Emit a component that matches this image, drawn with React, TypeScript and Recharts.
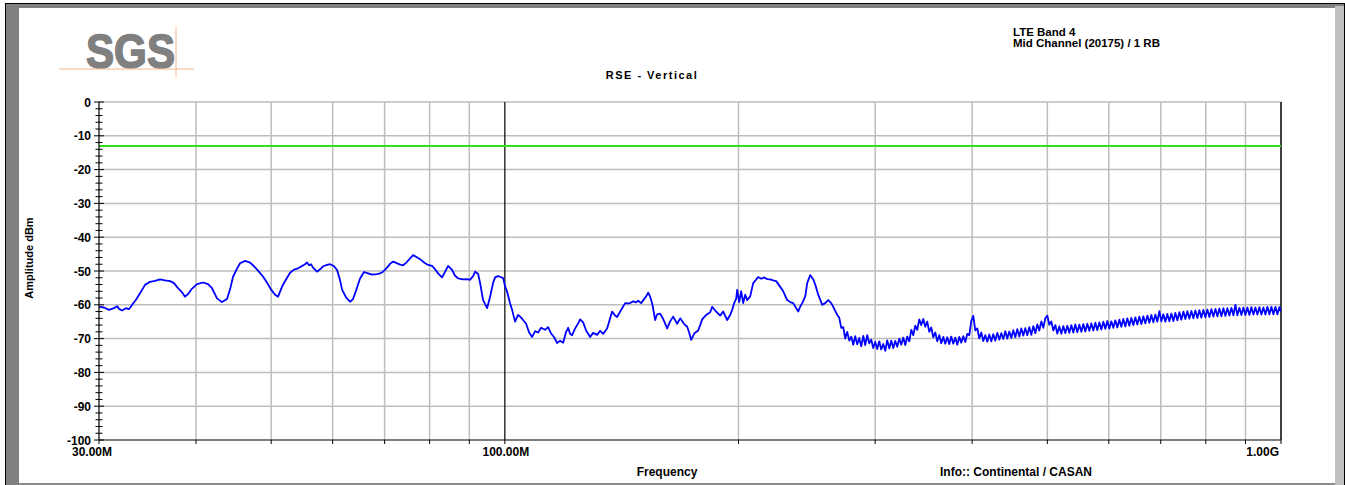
import React from 'react';
import { LineChart, Line, XAxis, YAxis, ReferenceLine } from 'recharts';

const W = 1345;
const H = 485;
const FONT = '"Liberation Sans", Arial, Helvetica, sans-serif';

// Sweep 30 MHz - 100 MHz: [frequency MHz, level dBm]
const traceLow: [number, number][] = [
  [30.0, -60.6], [30.45, -60.8], [30.9, -61.5], [31.37, -61.0], [31.65, -60.4], [31.84, -61.2],
  [32.12, -61.7], [32.5, -61.0], [32.79, -61.3], [33.19, -59.6], [33.48, -58.5], [33.88, -56.6],
  [34.39, -54.1], [34.9, -53.2], [35.42, -52.9], [35.95, -52.5], [36.49, -52.8], [37.04, -53.0],
  [37.48, -53.6], [37.93, -55.1], [38.38, -56.3], [38.72, -57.6], [39.07, -56.8], [39.54, -55.2],
  [40.13, -53.9], [40.85, -53.4], [41.46, -53.9], [41.95, -55.1], [42.58, -58.1], [43.21, -59.2],
  [43.86, -58.3], [44.25, -55.5], [44.65, -51.7], [45.18, -49.3], [45.59, -47.7], [46.27, -47.0],
  [46.96, -47.5], [47.52, -48.6], [48.09, -49.9], [48.82, -51.7], [49.39, -53.5], [49.98, -55.5],
  [50.58, -57.0], [51.03, -57.6], [51.64, -54.6], [52.25, -52.5], [52.88, -50.5], [53.51, -49.6],
  [54.15, -49.2], [54.79, -48.5], [55.28, -48.0], [55.61, -47.5], [55.94, -48.3], [56.27, -48.0],
  [56.61, -49.0], [57.29, -50.2], [57.8, -49.5], [58.32, -48.6], [59.01, -48.2], [59.54, -48.0],
  [60.25, -48.6], [60.79, -49.7], [61.33, -52.7], [61.7, -55.5], [62.43, -57.8], [63.18, -59.1],
  [63.74, -58.3], [64.31, -55.8], [65.08, -52.2], [65.86, -50.3], [66.64, -50.7], [67.44, -51.1],
  [68.45, -50.9], [69.06, -50.7], [69.68, -50.2], [70.51, -49.0], [71.14, -47.9], [71.78, -47.2],
  [72.42, -47.6], [73.29, -48.1], [73.94, -48.3], [74.6, -47.6], [75.27, -46.6], [76.17, -45.3],
  [76.85, -45.8], [77.77, -46.5], [78.7, -47.5], [79.63, -48.2], [80.59, -48.5], [81.31, -49.5],
  [82.04, -50.7], [83.02, -51.9], [83.77, -50.2], [84.51, -48.5], [85.52, -49.7], [86.28, -51.4],
  [87.05, -52.2], [88.35, -52.5], [89.41, -52.4], [90.21, -52.6], [91.02, -51.5], [91.56, -50.2],
  [92.37, -50.8], [92.93, -53.6], [93.76, -58.6], [94.87, -61.0], [95.72, -57.6], [96.58, -53.5],
  [97.15, -51.9], [98.02, -51.5], [98.6, -51.7], [99.49, -52.1],
];

// Sweep 100 MHz - 270 MHz
const traceMid: [number, number][] = [
  [100.08, -54.5], [100.68, -56.1], [101.58, -59.6], [102.18, -61.5], [103.09, -65.0], [104.01, -63.0],
  [104.94, -63.8], [105.56, -64.5], [106.52, -65.6], [107.47, -68.2], [108.43, -69.5], [109.4, -67.8],
  [110.37, -68.2], [111.36, -66.8], [112.69, -67.4], [113.7, -66.6], [114.72, -68.5], [115.74, -69.6],
  [116.78, -71.3], [117.82, -70.6], [118.88, -71.2], [119.94, -68.0], [120.65, -66.8], [121.37, -68.6],
  [122.09, -69.0], [123.18, -67.0], [124.29, -65.5], [125.03, -64.3], [126.15, -65.2], [127.27, -67.6],
  [128.79, -69.5], [129.94, -68.3], [131.5, -68.9], [132.67, -67.7], [133.86, -68.6], [135.45, -67.0],
  [136.67, -64.0], [137.48, -62.0], [138.71, -63.2], [139.54, -63.6], [140.79, -62.0], [141.63, -61.0],
  [142.89, -59.5], [144.6, -59.6], [146.33, -59.0], [147.63, -59.3], [148.51, -58.8], [149.84, -59.5],
  [150.73, -58.7], [152.09, -57.5], [152.99, -56.4], [153.9, -57.6], [154.82, -59.6], [156.21, -64.5],
  [157.12, -62.8], [158.53, -62.6], [159.96, -64.2], [161.86, -67.0], [163.3, -64.9], [164.77, -63.5],
  [166.74, -65.6], [168.23, -64.0], [170.24, -65.7], [171.76, -66.5], [172.78, -68.2], [173.81, -70.4],
  [175.37, -68.5], [177.45, -67.6], [178.51, -66.0], [179.58, -64.3], [181.71, -63.0], [183.88, -62.2],
  [184.98, -60.6], [186.67, -61.7], [189.43, -63.2], [191.12, -62.0], [193.41, -64.5], [195.14, -63.0],
  [196.3, -61.5], [197.47, -59.5], [198.64, -58.2], [199.23, -55.6], [200.42, -59.2], [201.61, -56.0],
  [202.81, -59.5], [204.02, -57.0], [205.24, -58.6], [207.07, -57.5], [208.92, -53.6], [210.78, -52.5],
  [212.05, -51.8], [213.95, -52.3], [215.86, -51.9], [217.78, -52.4], [219.73, -52.5], [221.69, -52.8],
  [223.67, -53.0], [226.35, -54.7], [228.37, -56.0], [231.1, -58.6], [233.17, -59.2], [235.26, -59.5],
  [237.37, -61.0], [238.78, -62.0], [240.2, -60.5], [241.63, -59.5], [243.81, -57.5], [245.24, -53.6],
  [247.43, -51.2], [249.64, -52.5], [251.13, -54.0], [253.38, -57.0], [256.4, -60.0], [258.7, -59.5],
  [261.01, -58.6], [263.35, -59.5], [264.92, -60.6], [268.07, -63.0],
];

// Sweep 270 MHz - 1 GHz
const traceHigh: [number, number][] = [
  [269.67, -63.8], [271.27, -66.8], [272.89, -66.6], [274.51, -70.0], [276.15, -68.0],
  [277.8, -70.6], [279.45, -69.4], [281.12, -71.8], [282.79, -69.3], [284.47, -71.7],
  [286.16, -69.8], [287.86, -72.3], [289.58, -69.2], [291.3, -71.9], [293.03, -69.0],
  [294.78, -71.4], [296.53, -70.3], [298.3, -72.8], [300.07, -71.0], [301.86, -73.1],
  [303.66, -70.8], [305.47, -73.2], [307.28, -71.6], [309.11, -73.6], [310.95, -70.5],
  [312.81, -72.9], [314.67, -70.6], [316.54, -72.8], [318.43, -70.7], [320.32, -72.4],
  [322.23, -70.0], [324.15, -71.8], [326.08, -69.7], [328.02, -71.9], [329.97, -69.4],
  [331.94, -70.8], [333.92, -67.4], [335.9, -69.0], [337.9, -66.2], [339.91, -67.4],
  [341.94, -64.3], [343.97, -66.0], [346.02, -64.2], [348.08, -66.5], [350.15, -65.0],
  [352.24, -68.0], [354.34, -66.7], [356.45, -69.6], [358.57, -68.2], [360.7, -70.8],
  [362.85, -69.0], [365.01, -71.4], [367.18, -69.5], [369.36, -71.5], [371.56, -69.6],
  [373.78, -71.6], [376.0, -69.4], [378.24, -71.5], [380.49, -69.7], [382.76, -71.8],
  [385.04, -69.5], [387.33, -71.2], [389.64, -69.3], [391.96, -71.0], [394.29, -68.6],
  [396.64, -69.0], [399.0, -64.8], [401.37, -63.3], [403.76, -67.6], [406.17, -67.0],
  [408.58, -69.9], [411.01, -68.2], [413.46, -70.7], [415.92, -69.0], [418.4, -70.9],
  [420.89, -68.8], [423.39, -70.8], [425.91, -68.7], [428.45, -70.6], [431.0, -68.3],
  [433.57, -70.3], [436.15, -68.4], [438.75, -70.1], [441.36, -67.8], [443.98, -70.0],
  [446.63, -67.9], [449.29, -69.8], [451.96, -67.5], [454.65, -69.6], [457.36, -67.2],
  [460.08, -69.4], [462.82, -67.0], [465.58, -69.1], [468.34, -66.9], [471.13, -69.0],
  [473.94, -66.6], [476.76, -68.9], [479.6, -66.3], [482.45, -68.4], [485.32, -65.8],
  [488.22, -67.6], [491.12, -64.9], [494.06, -66.8], [497.0, -64.0], [499.95, -63.2],
  [502.93, -65.9], [505.92, -64.9], [508.94, -67.6], [511.96, -66.0], [515.01, -68.5],
  [518.08, -66.4], [521.16, -68.6], [524.26, -66.3], [527.38, -68.4], [530.52, -66.2],
  [533.68, -68.3], [536.86, -66.0], [540.05, -68.2], [543.26, -65.8], [546.5, -68.1],
  [549.76, -65.9], [553.03, -68.0], [556.32, -65.7], [559.63, -67.9], [562.96, -65.6],
  [566.32, -67.7], [569.69, -65.5], [573.08, -67.6], [576.49, -65.3], [579.92, -67.5],
  [583.38, -65.2], [586.85, -67.3], [590.35, -65.0], [593.86, -67.1], [597.39, -64.8],
  [600.95, -67.0], [604.53, -64.9], [608.13, -66.8], [611.74, -64.6], [615.38, -66.7],
  [619.05, -64.4], [622.73, -66.5], [626.44, -64.2], [630.16, -66.4], [633.91, -64.0],
  [637.7, -66.2], [641.49, -63.9], [645.31, -66.0], [649.15, -63.7], [653.01, -65.8],
  [656.91, -63.5], [660.82, -65.7], [664.75, -63.4], [668.7, -65.5], [672.68, -63.2],
  [676.7, -65.3], [680.73, -63.0], [684.78, -65.2], [688.85, -62.9], [692.95, -65.0],
  [697.08, -61.9], [701.23, -64.9], [705.4, -62.8], [709.6, -65.0], [713.82, -62.7],
  [718.08, -64.9], [722.35, -62.6], [726.65, -64.8], [730.97, -62.4], [735.32, -64.6],
  [739.71, -62.2], [744.11, -64.4], [748.54, -62.0], [752.99, -64.2], [757.47, -61.9],
  [762.0, -64.1], [766.53, -61.8], [771.1, -64.0], [775.68, -61.7], [780.3, -63.9],
  [784.95, -61.6], [789.62, -63.8], [794.32, -61.5], [799.05, -63.7], [803.8, -61.4],
  [808.6, -63.6], [813.41, -61.3], [818.25, -63.5], [823.12, -61.2], [828.02, -63.4],
  [832.96, -61.1], [837.92, -63.4], [842.9, -61.0], [847.92, -63.3], [852.96, -61.0],
  [858.05, -63.2], [863.16, -60.9], [868.29, -63.1], [873.46, -60.0], [878.66, -63.1],
  [883.9, -60.9], [889.16, -63.0], [894.45, -60.8], [899.77, -63.0], [905.13, -60.8],
  [910.52, -63.0], [915.94, -60.7], [921.39, -62.9], [926.87, -60.8], [932.38, -62.9],
  [937.95, -60.7], [943.53, -62.9], [949.14, -60.8], [954.79, -62.9], [960.47, -60.6],
  [966.2, -62.8], [971.95, -60.6], [977.73, -62.8], [983.55, -60.6], [989.4, -62.8],
  [995.3, -60.7], [1000, -62.0],
];

const freqGridMHz = [30, 40, 50, 60, 70, 80, 90, 100, 200, 300, 400, 500, 600, 700, 800, 900, 1000];
const freqLabelMHz = [30, 100, 1000];
const freqLabelText = ['30.00M', '100.00M', '1.00G'];
const levelMajorTicks = [0, -10, -20, -30, -40, -50, -60, -70, -80, -90, -100];
const levelMinorTicks = [
  -2, -4, -6, -8, -12, -14, -16, -18, -22, -24, -26, -28, -32, -34, -36, -38,
  -42, -44, -46, -48, -52, -54, -56, -58, -62, -64, -66, -68, -72, -74, -76, -78,
  -82, -84, -86, -88, -92, -94, -96, -98,
];
const limitDbm = -13;

const data = [...traceLow, ...traceMid, ...traceHigh].map(([f, v]) => ({ f, v }));

const tickText = { fontFamily: FONT, fontWeight: 700, fontSize: 12, fill: '#000' } as const;

function FreqTick(props: any) {
  const { x, y, payload } = props;
  const i = freqLabelMHz.indexOf(payload.value);
  let label: React.ReactNode = null;
  if (i === 0) {
    label = <text x={x - 7} y={y + 16} textAnchor="middle" {...tickText}>{freqLabelText[i]}</text>;
  } else if (i === 1) {
    label = <text x={x + 1} y={y + 16} textAnchor="middle" {...tickText}>{freqLabelText[i]}</text>;
  } else if (i === 2) {
    label = <text x={x - 2} y={y + 16} textAnchor="end" {...tickText}>{freqLabelText[i]}</text>;
  }
  return (
    <g>
      <line x1={x} x2={x} y1={y} y2={y + 4} stroke="#000" strokeWidth={1} />
      {label}
    </g>
  );
}

function LevelTick(props: any) {
  const { x, y, payload } = props;
  const v = payload.value as number;
  const major = v % 10 === 0;
  const half = major ? 5 : 3.5;
  return (
    <g>
      <line x1={x - half} x2={x + half} y1={y} y2={y} stroke="#000" strokeWidth={1} />
      {major && (
        <text x={x - 8} y={y + 4.5} textAnchor="end" {...tickText}>{v}</text>
      )}
    </g>
  );
}

const box = (left: number, top: number, width: number, height: number, background: string): React.CSSProperties => ({
  position: 'absolute', left, top, width, height, background,
});

function Annotations() {
  const bold = { fontFamily: FONT, fontWeight: 700, fill: '#000' } as const;
  return (
    <svg width={W} height={H} style={{ position: 'absolute', left: 0, top: 0 }}>
      {/* logo */}
      <text x={86} y={68} fontFamily={FONT} fontWeight={700} fontSize={49} fill="#808080"
        stroke="#808080" strokeWidth={1.6} strokeLinejoin="round"
        textLength={89} lengthAdjust="spacingAndGlyphs">SGS</text>
      <line x1={59} y1={69} x2={194} y2={69} stroke="#f2b48c" strokeWidth={1} />
      <line x1={176} y1={27} x2={176} y2={77} stroke="#f2b48c" strokeWidth={1} />

      {/* headings */}
      <text x={1013} y={36} fontSize={11.5} {...bold}>LTE Band 4</text>
      <text x={1013} y={47} fontSize={11.5} {...bold}>Mid Channel (20175) / 1 RB</text>
      <text x={652} y={79} fontSize={11} letterSpacing={1.5} textAnchor="middle" {...bold}>RSE - Vertical</text>

      {/* axis titles and footer */}
      <text x={33} y={258} fontSize={11} textAnchor="middle" transform="rotate(-90 33 258)" {...bold}>Amplitude dBm</text>
      <text x={667} y={476} fontSize={12} textAnchor="middle" {...bold}>Frequency</text>
      <text x={940} y={476} fontSize={12} {...bold}>Info:: Continental / CASAN</text>
    </svg>
  );
}

export default function App() {
  return (
    <div style={{ position: 'absolute', left: 0, top: 0, width: W, height: H, background: '#ffffff', overflow: 'hidden' }}>
      <div style={{ position: 'absolute', left: 0, top: 0 }}>
        <LineChart width={W} height={H} data={data} margin={{ top: 102, right: 64, bottom: 15, left: 39 }}>
          <XAxis
            dataKey="f"
            type="number"
            scale="log"
            domain={[30, 1000]}
            allowDataOverflow
            ticks={freqGridMHz}
            interval={0}
            height={30}
            tickSize={0}
            tickMargin={0}
            tickLine={false}
            axisLine={{ stroke: '#000', strokeWidth: 1.2 }}
            tick={(p: any) => <FreqTick {...p} />}
          />
          <YAxis
            type="number"
            domain={[-100, 0]}
            allowDataOverflow
            ticks={[...levelMajorTicks, ...levelMinorTicks]}
            interval={0}
            width={60}
            tickSize={0}
            tickMargin={0}
            tickLine={false}
            axisLine={{ stroke: '#000', strokeWidth: 1.2 }}
            tick={(p: any) => <LevelTick {...p} />}
          />
          {levelMajorTicks.filter((v) => v > -100).map((v) => (
            <ReferenceLine key={`h${v}`} y={v} stroke="#bdbdbd" strokeWidth={1.5} />
          ))}
          {freqGridMHz.filter((f) => f > 30 && f < 1000 && f !== 100).map((f) => (
            <ReferenceLine key={`v${f}`} x={f} stroke="#bdbdbd" strokeWidth={1.5} />
          ))}
          <ReferenceLine x={100} stroke="#000" strokeWidth={1.2} />
          <ReferenceLine x={1000} stroke="#000" strokeWidth={1.5} />
          <ReferenceLine y={limitDbm} stroke="#2ee31a" strokeWidth={2} />
          <Line
            dataKey="v"
            type="linear"
            stroke="#0000ff"
            strokeWidth={1.8}
            strokeLinejoin="round"
            dot={false}
            activeDot={false}
            isAnimationActive={false}
          />
        </LineChart>
      </div>
      <Annotations />
      {/* window border, drawn last so nothing covers it */}
      <div style={box(5, 3, W - 5, 1, '#000000')} />
      <div style={box(6, 4, W - 7, 4, '#808080')} />
      <div style={box(5, 3, 1, H - 3, '#000000')} />
      <div style={box(6, 4, 13, H - 4, '#808080')} />
      <div style={box(1335, 6, 9, H - 6, '#c0c0c0')} />
      <div style={box(1344, 3, 1, H - 3, '#000000')} />
      <div style={box(19, 483, 1316, 2, '#8a8a8a')} />
    </div>
  );
}
